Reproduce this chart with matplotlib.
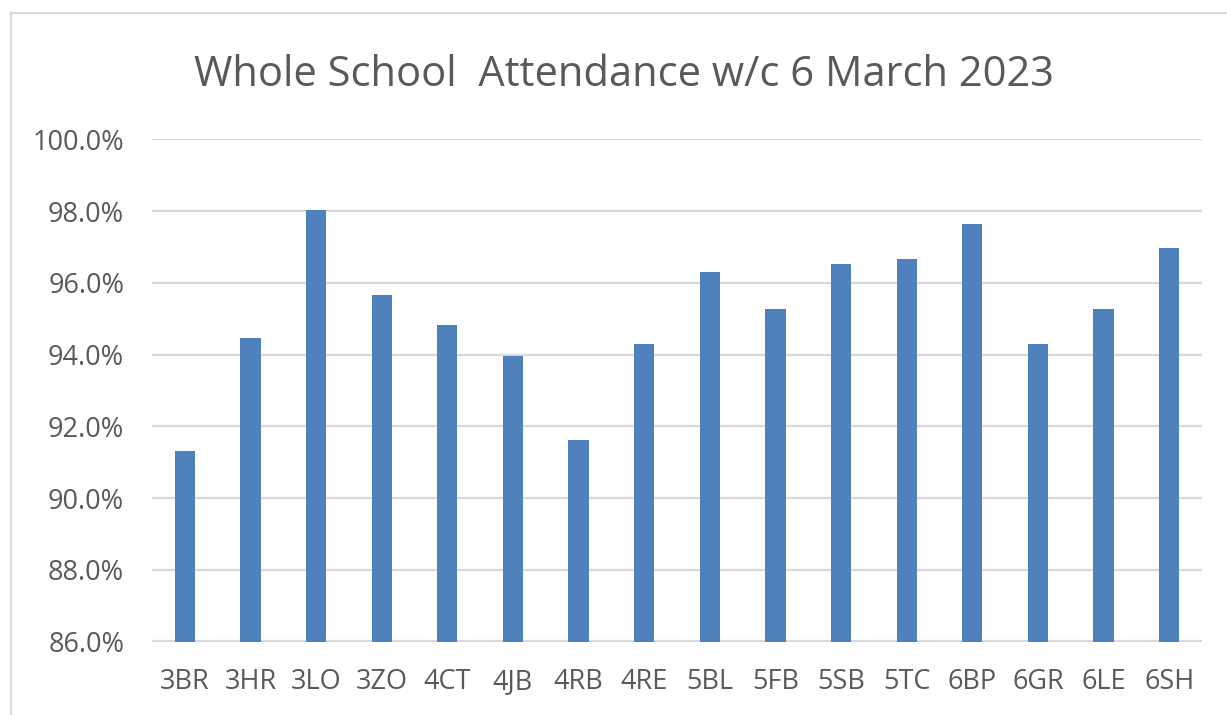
import matplotlib.pyplot as plt
from matplotlib.patches import Rectangle
from matplotlib.ticker import FuncFormatter

CLASSES = ["3BR", "3HR", "3LO", "3ZO", "4CT", "4JB", "4RB", "4RE",
           "5BL", "5FB", "5SB", "5TC", "6BP", "6GR", "6LE", "6SH"]
ATTENDANCE = [91.30, 94.46, 98.03, 95.65, 94.83, 93.97, 91.63, 94.28,
              96.29, 95.28, 96.52, 96.66, 97.65, 94.28, 95.28, 96.98]
Y_TICKS = [86, 88, 90, 92, 94, 96, 98, 100]

TEXT_COL = "#595959"
GRID_COL = "#d9d9d9"
BAR_COL = "#4f81bd"

plt.rcParams["font.family"] = ["Open Sans", "DejaVu Sans"]

W, H = 1227, 715
fig = plt.figure(figsize=(W / 100, H / 100), dpi=100)

# chart area border (runs off right and bottom edges)
fig.patches.append(Rectangle((11 / W, -0.1), 1.2, 1 - 13 / H + 0.1,
                             transform=fig.transFigure, fill=False,
                             edgecolor=GRID_COL, linewidth=1.5))

ax = fig.add_axes([152 / W, 1 - 641.5 / H, (1202 - 152) / W, (641.5 - 139.3) / H])
x = range(len(CLASSES))
ax.bar(x, ATTENDANCE, width=0.31, color=BAR_COL, zorder=3)

ax.set_xlim(-0.5, len(CLASSES) - 0.5)
ax.set_ylim(86, 100)
ax.set_yticks(Y_TICKS)
ax.yaxis.set_major_formatter(FuncFormatter(lambda v, _: f"{v:.1f}%"))
ax.set_xticks(list(x))
ax.set_xticklabels(CLASSES)

ax.grid(axis="y", color=GRID_COL, linewidth=1.6, zorder=0)
for s in ax.spines.values():
    s.set_visible(False)
ax.tick_params(axis="both", length=0, labelsize=19.5, labelcolor=TEXT_COL)
ax.tick_params(axis="y", pad=20)
ax.tick_params(axis="x", pad=19)

fig.text(624 / W, 1 - 75 / H, "Whole School  Attendance w/c 6 March 2023",
         ha="center", va="center", fontsize=30, color=TEXT_COL)

fig.savefig("out.png", dpi=100)
